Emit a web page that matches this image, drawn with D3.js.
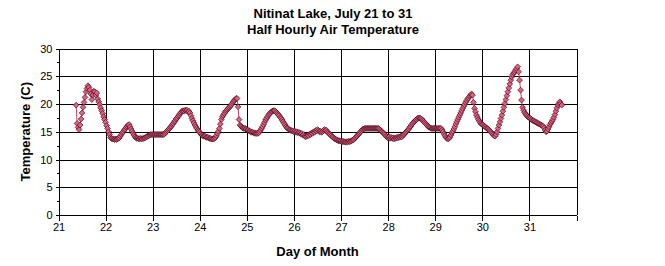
<!DOCTYPE html>
<html>
<head>
<meta charset="utf-8">
<script src="https://cdn.jsdelivr.net/npm/d3@7/dist/d3.min.js"></script>
<style>
  html, body { margin: 0; padding: 0; background: #fff; }
  svg { display: block; font-family: "Liberation Sans", Arial, sans-serif; }
</style>
</head>
<body>
<svg id="chart" width="665" height="266"></svg>
<script>
// ---- Data: half-hourly air temperature (deg C), Nitinat Lake, July 21-31 ----
const titleLines = ["Nitinat Lake, July 21 to 31", "Half Hourly Air Temperature"];
const xLabel = "Day of Month";
const yLabel = "Temperature (C)";
const xTicks = [21, 22, 23, 24, 25, 26, 27, 28, 29, 30, 31, 32];
const xTickLabels = ["21", "22", "23", "24", "25", "26", "27", "28", "29", "30", "31", ""];
const yTicks = [0, 5, 10, 15, 20, 25, 30];
const startDay = 21.375;      // first reading: July 21, 09:00
const stepDays = 1 / 48;      // half hour

// July 21, 09:00 - 23:30
const day21 = [19.8, 16.5, 15.8, 15.4, 16.2, 17.3, 18.4, 19.4, 20.3, 21.2, 22.2, 22.8, 23.3, 23.0, 22.5, 21.8, 20.8, 21.6, 22.3, 22.2, 21.6, 22.0, 20.9, 20.4, 19.9, 19.3, 18.8, 18.3, 17.7, 17.2];
// July 22, 00:00 - 23:30
const day22 = [16.7, 16.1, 15.6, 15.0, 14.5, 14.0, 13.8, 13.7, 13.7, 13.6, 13.7, 13.6, 13.7, 13.8, 13.9, 14.2, 14.5, 14.8, 15.0, 15.3, 15.5, 15.8, 16.0, 16.2, 16.3, 15.9, 15.5, 15.1, 14.7, 14.4, 14.1, 13.9, 13.8, 13.8, 13.7, 13.8, 13.8, 13.7, 13.8, 13.8, 13.9, 14.0, 14.1, 14.2, 14.3, 14.4, 14.5, 14.5];
const day23 = [14.5, 14.5, 14.5, 14.5, 14.5, 14.5, 14.5, 14.5, 14.5, 14.5, 14.5, 14.5, 14.6, 14.8, 15.0, 15.2, 15.4, 15.6, 15.8, 16.0, 16.3, 16.5, 16.8, 17.0, 17.3, 17.5, 17.8, 18.0, 18.3, 18.5, 18.7, 18.8, 18.7, 18.9, 18.8, 18.9, 18.6, 18.7, 18.4, 17.9, 17.4, 17.0, 16.6, 16.2, 15.9, 15.6, 15.3, 15.1];
const day24 = [14.9, 14.6, 14.4, 14.3, 14.2, 14.2, 14.1, 14.0, 14.0, 13.9, 13.8, 13.8, 13.7, 13.7, 13.7, 13.8, 14.0, 14.3, 14.7, 15.1, 15.6, 16.4, 17.2, 17.7, 18.0, 18.3, 18.6, 18.8, 19.0, 19.2, 19.4, 19.6, 19.8, 20.1, 20.4, 20.6, 20.8, 21.0, 21.0, 19.5, 17.2, 16.2, 16.0, 15.8, 15.7, 15.6, 15.6, 15.5];
const day25 = [15.4, 15.3, 15.2, 15.1, 15.0, 14.9, 14.9, 14.8, 14.8, 14.7, 14.7, 14.7, 14.8, 15.0, 15.3, 15.6, 15.9, 16.3, 16.7, 17.1, 17.4, 17.7, 18.0, 18.2, 18.4, 18.6, 18.7, 18.8, 18.8, 18.7, 18.5, 18.3, 18.1, 17.9, 17.6, 17.4, 17.1, 16.8, 16.5, 16.2, 15.9, 15.7, 15.6, 15.4, 15.3, 15.2, 15.2, 15.1];
const day26 = [15.0, 15.1, 14.9, 15.0, 14.8, 14.9, 14.8, 14.6, 14.7, 14.4, 14.5, 14.2, 14.1, 14.2, 14.4, 14.3, 14.6, 14.5, 14.8, 14.7, 15.0, 14.9, 15.2, 15.1, 15.4, 15.2, 15.0, 15.1, 14.9, 15.0, 15.2, 15.4, 15.2, 15.3, 15.0, 14.8, 14.6, 14.5, 14.3, 14.1, 14.0, 13.8, 13.7, 13.6, 13.5, 13.4, 13.4, 13.3];
const day27 = [13.3, 13.2, 13.3, 13.2, 13.2, 13.1, 13.2, 13.2, 13.3, 13.2, 13.3, 13.4, 13.5, 13.6, 13.8, 14.0, 14.2, 14.4, 14.6, 14.8, 15.0, 15.2, 15.4, 15.5, 15.6, 15.6, 15.6, 15.6, 15.6, 15.6, 15.6, 15.6, 15.6, 15.6, 15.6, 15.6, 15.6, 15.6, 15.6, 15.5, 15.3, 15.1, 15.0, 14.8, 14.6, 14.4, 14.2, 14.0];
const day28 = [13.9, 14.1, 13.8, 14.0, 13.8, 13.9, 13.7, 13.9, 13.8, 14.0, 13.9, 14.1, 14.0, 14.2, 14.1, 14.3, 14.5, 14.7, 14.9, 15.1, 15.3, 15.5, 15.8, 16.0, 16.3, 16.5, 16.7, 16.9, 17.1, 17.2, 17.4, 17.5, 17.5, 17.4, 17.3, 17.1, 16.9, 16.7, 16.5, 16.3, 16.1, 15.9, 15.8, 15.7, 15.6, 15.6, 15.6, 15.6];
const day29 = [15.6, 15.6, 15.6, 15.6, 15.6, 15.6, 15.6, 15.3, 15.0, 14.6, 14.3, 14.0, 13.8, 13.7, 13.8, 14.0, 14.4, 14.8, 15.1, 15.5, 15.9, 16.4, 16.8, 17.2, 17.6, 18.0, 18.4, 18.8, 19.2, 19.6, 19.9, 20.3, 20.6, 20.9, 21.1, 21.4, 21.6, 21.8, 21.6, 20.3, 19.2, 18.6, 18.0, 17.6, 17.2, 16.9, 16.6, 16.4];
const day30 = [16.3, 16.2, 16.0, 15.9, 15.7, 15.6, 15.5, 15.3, 15.1, 14.9, 14.7, 14.5, 14.3, 14.2, 14.5, 15.0, 15.6, 16.2, 16.8, 17.4, 18.0, 18.7, 19.4, 20.1, 20.8, 21.5, 22.2, 22.9, 23.6, 24.3, 24.9, 25.3, 25.6, 25.8, 26.1, 26.4, 26.7, 25.8, 24.3, 22.5, 20.7, 19.4, 18.9, 18.5, 18.2, 18.0, 17.8, 17.6];
// July 31, 00:00 - 16:30
const day31 = [17.5, 17.4, 17.2, 17.1, 17.0, 16.9, 16.8, 16.7, 16.6, 16.5, 16.4, 16.3, 16.2, 16.1, 16.0, 15.7, 15.3, 15.0, 15.1, 15.5, 15.9, 16.3, 16.6, 16.9, 17.2, 17.6, 18.1, 18.7, 19.3, 19.8, 20.1, 20.4, 20.1, 19.8];

const temps = [].concat(day21, day22, day23, day24, day25, day26, day27, day28, day29, day30, day31);
const series = temps.map((t, i) => ({ day: startDay + i * stepDays, temp: t }));

// ---- Layout ----
const svg = d3.select("#chart");
const margin = { left: 58.5, right: 665 - 576.5, top: 48.5, bottom: 266 - 215 };
const W = 665, H = 266;
const x = d3.scaleLinear().domain([21, 32]).range([margin.left, W - margin.right]);
const y = d3.scaleLinear().domain([0, 30]).range([H - margin.bottom, margin.top]);

const ink = "#000";

// gridlines
const grid = svg.append("g").attr("shape-rendering", "crispEdges");
grid.selectAll("line.h").data(yTicks).join("line")
  .attr("x1", x(21)).attr("x2", x(32))
  .attr("y1", d => Math.round(y(d)) + 0.5).attr("y2", d => Math.round(y(d)) + 0.5)
  .attr("stroke", ink).attr("stroke-width", 1);
grid.selectAll("line.v").data(xTicks).join("line")
  .attr("x1", d => Math.round(x(d)) + 0.5).attr("x2", d => Math.round(x(d)) + 0.5)
  .attr("y1", y(30)).attr("y2", y(0))
  .attr("stroke", ink).attr("stroke-width", 1);

// x axis
const xAxis = d3.axisBottom(x).tickValues(xTicks).tickSize(5).tickPadding(3)
  .tickFormat((d, i) => xTickLabels[i]);
const gx = svg.append("g").attr("transform", `translate(0,${Math.round(y(0)) + 0.5})`).call(xAxis);
gx.select(".domain").remove();
gx.selectAll(".tick line").attr("stroke", ink).attr("shape-rendering", "crispEdges");
gx.selectAll("text").attr("font-size", "11px").attr("fill", ink)
  .attr("font-family", "'Liberation Sans', Arial, sans-serif");

// y axis (major)
const yAxis = d3.axisLeft(y).tickValues(yTicks).tickSize(4).tickPadding(3);
const gy = svg.append("g").attr("transform", `translate(${Math.round(x(21)) + 0.5},0)`).call(yAxis);
gy.select(".domain").attr("stroke", ink).attr("shape-rendering", "crispEdges").attr("d", `M0,${y(30)}V${y(0)}`);
gy.selectAll(".tick line").attr("stroke", ink).attr("shape-rendering", "crispEdges");
gy.selectAll("text").attr("font-size", "11px").attr("fill", ink)
  .attr("font-family", "'Liberation Sans', Arial, sans-serif");
// y axis minor ticks
const minorY = d3.range(2.5, 30, 5);
svg.append("g").attr("shape-rendering", "crispEdges").selectAll("line").data(minorY).join("line")
  .attr("x1", Math.round(x(21)) - 2.5).attr("x2", Math.round(x(21)) + 0.5)
  .attr("y1", d => Math.round(y(d)) + 0.5).attr("y2", d => Math.round(y(d)) + 0.5)
  .attr("stroke", ink);

// series line
const line = d3.line().x(d => x(d.day)).y(d => y(d.temp));
svg.append("path").datum(series)
  .attr("d", line).attr("fill", "none")
  .attr("stroke", "#d03c6a").attr("stroke-width", 1);

// markers (diamonds)
const diamond = "M0,-2.9L2.9,0L0,2.9L-2.9,0Z";
svg.append("g").selectAll("path").data(series).join("path")
  .attr("d", diamond)
  .attr("transform", d => `translate(${x(d.day)},${y(d.temp)})`)
  .attr("fill", "#e0607f").attr("stroke", "#300010").attr("stroke-width", 0.6);

// titles
const cx = 333;
svg.append("text").attr("x", cx).attr("y", 18).attr("text-anchor", "middle")
  .attr("font-size", "13px").attr("font-weight", "bold").text(titleLines[0]);
svg.append("text").attr("x", cx).attr("y", 34).attr("text-anchor", "middle")
  .attr("font-size", "13px").attr("font-weight", "bold").text(titleLines[1]);

svg.append("text").attr("x", (x(21) + x(32)) / 2).attr("y", 256).attr("text-anchor", "middle")
  .attr("font-size", "13px").attr("font-weight", "bold").text(xLabel);

svg.append("text")
  .attr("transform", `translate(30,${(y(0) + y(30)) / 2}) rotate(-90)`)
  .attr("text-anchor", "middle")
  .attr("font-size", "13px").attr("font-weight", "bold").text(yLabel);
</script>
</body>
</html>
